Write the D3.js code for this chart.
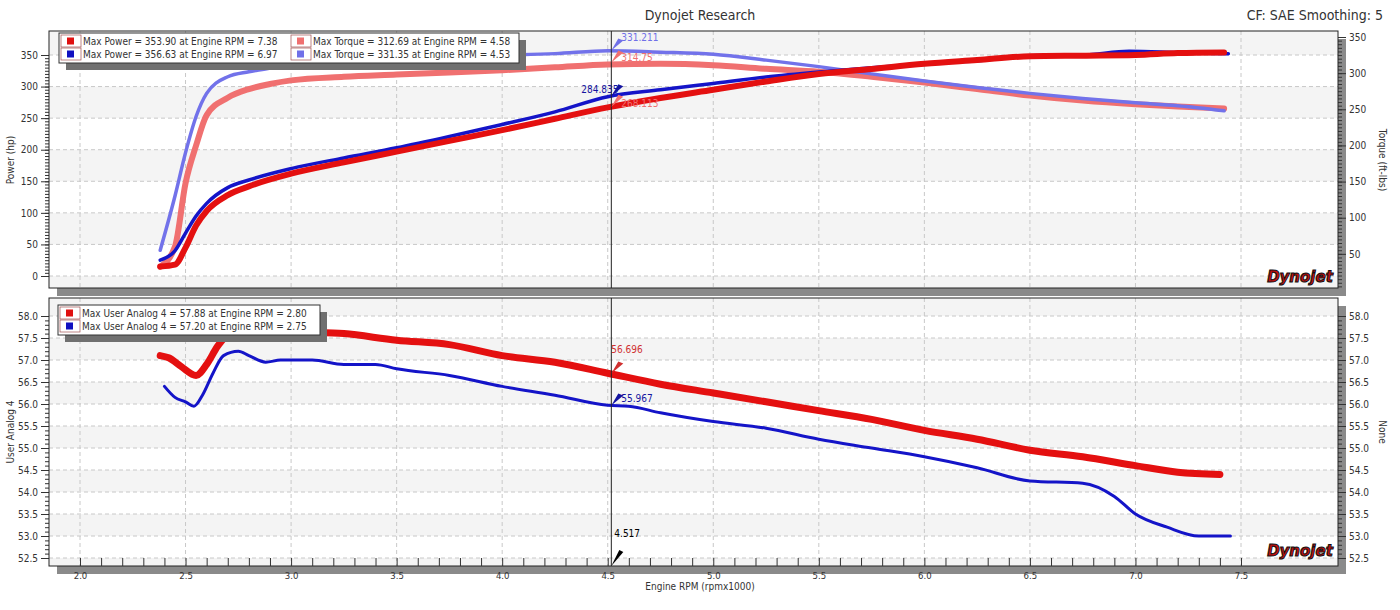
<!DOCTYPE html><html><head><meta charset="utf-8">
<script src="https://cdn.jsdelivr.net/npm/d3@7"></script>
<style>body{margin:0;background:#fff;font-family:Tahoma,"DejaVu Sans",sans-serif}</style></head><body>
<svg id="c" width="1400" height="610"></svg>
<script>
const rpmPowRed=[2.38,2.45,2.5,2.55,2.6,2.7,2.8,3.0,3.25,3.5,3.75,4.0,4.25,4.5,4.75,5.0,5.25,5.5,5.75,6.0,6.25,6.5,6.75,7.0,7.2,7.42];
const powRed=[15,18,45,80,103,128,142,162,180,197,214,231,249,267,282,295,308,320,328,336,342,348,349,350,353,354];
const rpmPowBlue=[2.38,2.45,2.5,2.55,2.6,2.7,2.8,3.0,3.25,3.5,3.75,4.0,4.25,4.5,4.75,5.0,5.25,5.5,5.75,6.0,6.25,6.5,6.75,6.97,7.2,7.44];
const powBlue=[25,40,68,95,115,140,152,170,187,203,221,240,260,284,295,305,315,323,330,336,341,349,350,356,354,352];
const rpmTq=[2.38,2.45,2.5,2.55,2.6,2.7,2.8,2.9,3.0,3.25,3.5,3.75,4.0,4.25,4.5,4.75,5.0,5.25,5.5,5.75,6.0,6.25,6.5,6.75,7.0,7.2,7.42];
const tqRed=[32,60,148,200,242,266,278,285,290,295,298,301,304,308,312,313,311,306,302,295,287,278,269,262,257,254,251];
const tqBlue=[55,130,190,240,272,295,302,307,315,320,322,323,325,327,331,329,326,318,309,299,289,280,272,265,259,255,248];
const rpmAnRed=[2.38,2.42,2.48,2.55,2.6,2.65,2.7,2.75,2.85,3.0,3.25,3.5,3.75,4.0,4.25,4.5,4.75,5.0,5.25,5.5,5.75,6.0,6.25,6.5,6.75,7.0,7.2,7.4];
const anRed=[57.1,57.05,56.85,56.65,56.9,57.3,57.6,57.88,57.75,57.65,57.6,57.45,57.35,57.1,56.95,56.7,56.45,56.25,56.05,55.85,55.65,55.4,55.2,54.95,54.8,54.6,54.45,54.4];
const rpmAnBlue=[2.4,2.45,2.5,2.54,2.58,2.63,2.68,2.75,2.8,2.88,2.95,3.1,3.25,3.4,3.5,3.75,4.0,4.25,4.5,4.6,4.75,5.0,5.25,5.5,5.75,6.0,6.25,6.5,6.75,6.9,7.0,7.15,7.3,7.45];
const anBlue=[56.4,56.15,56.05,55.95,56.2,56.7,57.1,57.2,57.1,56.95,57.0,57.0,56.9,56.9,56.8,56.65,56.4,56.2,55.97,55.95,55.8,55.6,55.45,55.2,55.0,54.8,54.55,54.25,54.2,53.9,53.5,53.2,53.0,53.0];
const xTicks=[2.0,2.5,3.0,3.5,4.0,4.5,5.0,5.5,6.0,6.5,7.0,7.5];
const powTicks=[0,50,100,150,200,250,300,350];
const tqTicks=[50,100,150,200,250,300,350];
const anTicks=[52.5,53,53.5,54,54.5,55,55.5,56,56.5,57,57.5,58];
const legendTop=[["#e01010","Max Power = 353.90 at Engine RPM = 7.38"],["#1010c0","Max Power = 356.63 at Engine RPM = 6.97"],["#f07070","Max Torque = 312.69 at Engine RPM = 4.58"],["#7070e8","Max Torque = 331.35 at Engine RPM = 4.53"]];
const legendBot=[["#e01010","Max User Analog 4 = 57.88 at Engine RPM = 2.80"],["#1010c0","Max User Analog 4 = 57.20 at Engine RPM = 2.75"]];
const cursor=4.517;

const svg=d3.select("#c");
const L=49,R=1338;
const x=d3.scaleLinear().domain([2,7.5]).range([80,1241]);
const yP=d3.scaleLinear().domain([0,350]).range([276,55]);
const yT=d3.scaleLinear().domain([0,350]).range([290,37]);
const yA=d3.scaleLinear().domain([52.5,58]).range([558,316]);
const font="'Liberation Sans Narrow','DejaVu Sans Condensed',sans-serif";

function panel(top,bot,y,ticks){
  svg.append("rect").attr("x",L+8).attr("y",bot).attr("width",R-L).attr("height",8).attr("fill","#8a8a8a");
  svg.append("rect").attr("x",R).attr("y",top+8).attr("width",8).attr("height",bot-top).attr("fill","#8a8a8a");
  svg.append("rect").attr("x",L).attr("y",top).attr("width",R-L).attr("height",bot-top).attr("fill","#fff");
  for(let i=0;i<ticks.length-1;i+=2){
    const a=y(ticks[i]),b=y(ticks[i+1]);
    const t=Math.max(top,Math.min(a,b)),bb=Math.min(bot,Math.max(a,b));
    if(bb>t) svg.append("rect").attr("x",L).attr("y",t).attr("width",R-L).attr("height",bb-t).attr("fill","#f4f4f4");
  }
  const g=svg.append("g");
  g.selectAll(".h").data(ticks.filter(d=>y(d)>top&&y(d)<bot)).join("line").attr("x1",L).attr("x2",R).attr("y1",d=>y(d)).attr("y2",d=>y(d)).attr("stroke","#c8c8c8").attr("stroke-dasharray","4,3");
  g.selectAll(".v").data(xTicks).join("line").attr("x1",d=>x(d)).attr("x2",d=>x(d)).attr("y1",top).attr("y2",bot).attr("stroke","#c8c8c8").attr("stroke-dasharray","4,3");
}
panel(31,288,yP,[-50,...powTicks,400]);
panel(298,566,yA,[52,52.5,53,53.5,54,54.5,55,55.5,56,56.5,57,57.5,58,58.5]);

function axes(top,bot,yl,lt,yr,rt,fmt){
  const al=svg.append("g").attr("transform",`translate(${L},0)`).call(d3.axisLeft(yl).tickValues(lt).tickSize(8).tickFormat(fmt));
  const ml=svg.append("g").attr("transform",`translate(${L},0)`).call(d3.axisLeft(yl).ticks(60).tickSize(4).tickFormat(""));
  const ar=svg.append("g").attr("transform",`translate(${R},0)`).call(d3.axisRight(yr).tickValues(rt).tickSize(8).tickFormat(fmt));
  const mr=svg.append("g").attr("transform",`translate(${R},0)`).call(d3.axisRight(yr).ticks(60).tickSize(4).tickFormat(""));
  [al,ml,ar,mr].forEach(a=>{a.select(".domain").remove();a.selectAll("line").attr("stroke","#333");a.selectAll(".tick").filter(function(){const t=+this.getAttribute("transform").match(/,([\d.-]+)/)[1];return t<top||t>bot}).remove();a.selectAll("text").attr("font-family",font).attr("font-size",10).attr("fill","#333")});
  svg.append("rect").attr("x",L).attr("y",top).attr("width",R-L).attr("height",bot-top).attr("fill","none").attr("stroke","#222");
}
axes(31,288,yP,powTicks,yT,tqTicks,d3.format("d"));
axes(298,566,yA,anTicks,yA,anTicks,d3.format(".1f"));

const defs=svg.append("defs");
defs.append("clipPath").attr("id","c1").append("rect").attr("x",L).attr("y",31).attr("width",R-L).attr("height",257);
defs.append("clipPath").attr("id","c2").append("rect").attr("x",L).attr("y",298).attr("width",R-L).attr("height",268);

function line(xs,ys,yS,col,w,clip){
  svg.append("path").datum(xs.map((v,i)=>[v,ys[i]])).attr("clip-path",`url(#${clip})`)
   .attr("d",d3.line().x(d=>x(d[0])).y(d=>yS(d[1])).curve(d3.curveMonotoneX))
   .attr("fill","none").attr("stroke",col).attr("stroke-width",w).attr("stroke-linecap","round").attr("stroke-linejoin","round");
}
line(rpmTq,tqRed,yT,"#f07070",6,"c1");
line(rpmTq,tqBlue,yT,"#7272ea",3.5,"c1");
line(rpmPowBlue,powBlue,yP,"#1414c8",3.5,"c1");
line(rpmPowRed,powRed,yP,"#e41010",6,"c1");
line(rpmAnBlue,anBlue,yA,"#1414c8",3,"c2");
line(rpmAnRed,anRed,yA,"#e41010",7,"c2");

svg.append("line").attr("x1",x(cursor)).attr("x2",x(cursor)).attr("y1",31).attr("y2",288).attr("stroke","#222");
svg.append("line").attr("x1",x(cursor)).attr("x2",x(cursor)).attr("y1",298).attr("y2",566).attr("stroke","#222");
function mark(yv,col,label,dx,dy){
  const px=x(cursor),py=yv;
  svg.append("path").attr("d",`M${px},${py} l12,-10 l-5,-2 z`).attr("fill",col);
  svg.append("text").attr("x",px+dx).attr("y",py+dy).text(label).attr("font-family",font).attr("font-size",10).attr("fill",col);
}
mark(yT(331.211),"#7070e8","331.211",10,-10);
mark(yT(314.75),"#f07070","314.75",10,-1);
mark(yP(284.835),"#1414a0","284.835",-30,-3);
mark(yP(268.113),"#f07070","268.113",10,0);
mark(yA(56.696),"#d03030","56.696",0,-20);
mark(yA(55.967),"#1414a0","55.967",10,-3);
svg.append("path").attr("d",`M${x(cursor)},566 l12,-14 l-4,-2 z`).attr("fill","#000");
svg.append("text").attr("x",x(cursor)+3).attr("y",537).text("4.517").attr("font-family",font).attr("font-size",10);

function legend(lx,ly,items,cols,colW){
  const rows=Math.ceil(items.length/cols),h=rows*13+4,w=cols*colW;
  svg.append("rect").attr("x",lx+7).attr("y",ly+7).attr("width",w).attr("height",h).attr("fill","#707070");
  svg.append("rect").attr("x",lx).attr("y",ly).attr("width",w).attr("height",h).attr("fill","#fff").attr("stroke","#333");
  items.forEach((it,i)=>{
    const c=Math.floor(i/rows),r=i%rows,ix=lx+c*colW,iy=ly+2+r*13;
    svg.append("rect").attr("x",ix+2).attr("y",iy).attr("width",20).attr("height",12).attr("fill","#fff").attr("stroke","#a05050").attr("stroke-width",0.7);
    svg.append("rect").attr("x",ix+8).attr("y",iy+2.5).attr("width",7).attr("height",7).attr("fill",it[0]);
    svg.append("text").attr("x",ix+24).attr("y",iy+10).text(it[1]).attr("font-family",font).attr("font-size",10).attr("fill","#333");
  });
}
legend(59,33,legendTop,2,230);
legend(58,305,legendBot,1,262);

svg.append("text").attr("x",700).attr("y",20).attr("text-anchor","middle").text("Dynojet Research").attr("font-family",font).attr("font-size",14).attr("fill","#333");
svg.append("text").attr("x",1383).attr("y",20).attr("text-anchor","end").text("CF: SAE Smoothing: 5").attr("font-family",font).attr("font-size",14).attr("fill","#333");
svg.append("text").attr("transform","translate(14,160) rotate(-90)").attr("text-anchor","middle").text("Power (hp)").attr("font-family",font).attr("font-size",10).attr("fill","#333");
svg.append("text").attr("transform","translate(1379,160) rotate(90)").attr("text-anchor","middle").text("Torque (ft-lbs)").attr("font-family",font).attr("font-size",10).attr("fill","#333");
svg.append("text").attr("transform","translate(14,432) rotate(-90)").attr("text-anchor","middle").text("User Analog 4").attr("font-family",font).attr("font-size",10).attr("fill","#333");
svg.append("text").attr("transform","translate(1379,432) rotate(90)").attr("text-anchor","middle").text("None").attr("font-family",font).attr("font-size",10).attr("fill","#333");
const xa=svg.append("g").attr("transform","translate(0,566)").call(d3.axisBottom(x).tickValues(xTicks).tickSize(0).tickPadding(6).tickFormat(d3.format(".1f")));
xa.select(".domain").remove();xa.selectAll("text").attr("font-family",font).attr("font-size",9.5).attr("fill","#333");
const xm=svg.append("g").attr("transform","translate(0,566)").call(d3.axisTop(x).ticks(55).tickSize(8).tickFormat(""));
xm.select(".domain").remove();xm.selectAll(".tick").filter(d=>d<1.78||d>7.78).remove();xm.selectAll("line").attr("stroke","#333");
svg.append("text").attr("x",700).attr("y",590).attr("text-anchor","middle").text("Engine RPM (rpmx1000)").attr("font-family",font).attr("font-size",10).attr("fill","#333");
[[1300,282],[1300,556]].forEach(([lx,ly])=>{
  svg.append("text").attr("x",lx).attr("y",ly).attr("text-anchor","middle").text("Dynojet").attr("font-family","'DejaVu Sans'").attr("font-weight","bold").attr("font-style","italic").attr("font-size",15).attr("fill","#c01010").attr("stroke","#111").attr("stroke-width",1);
});
</script></body></html>
